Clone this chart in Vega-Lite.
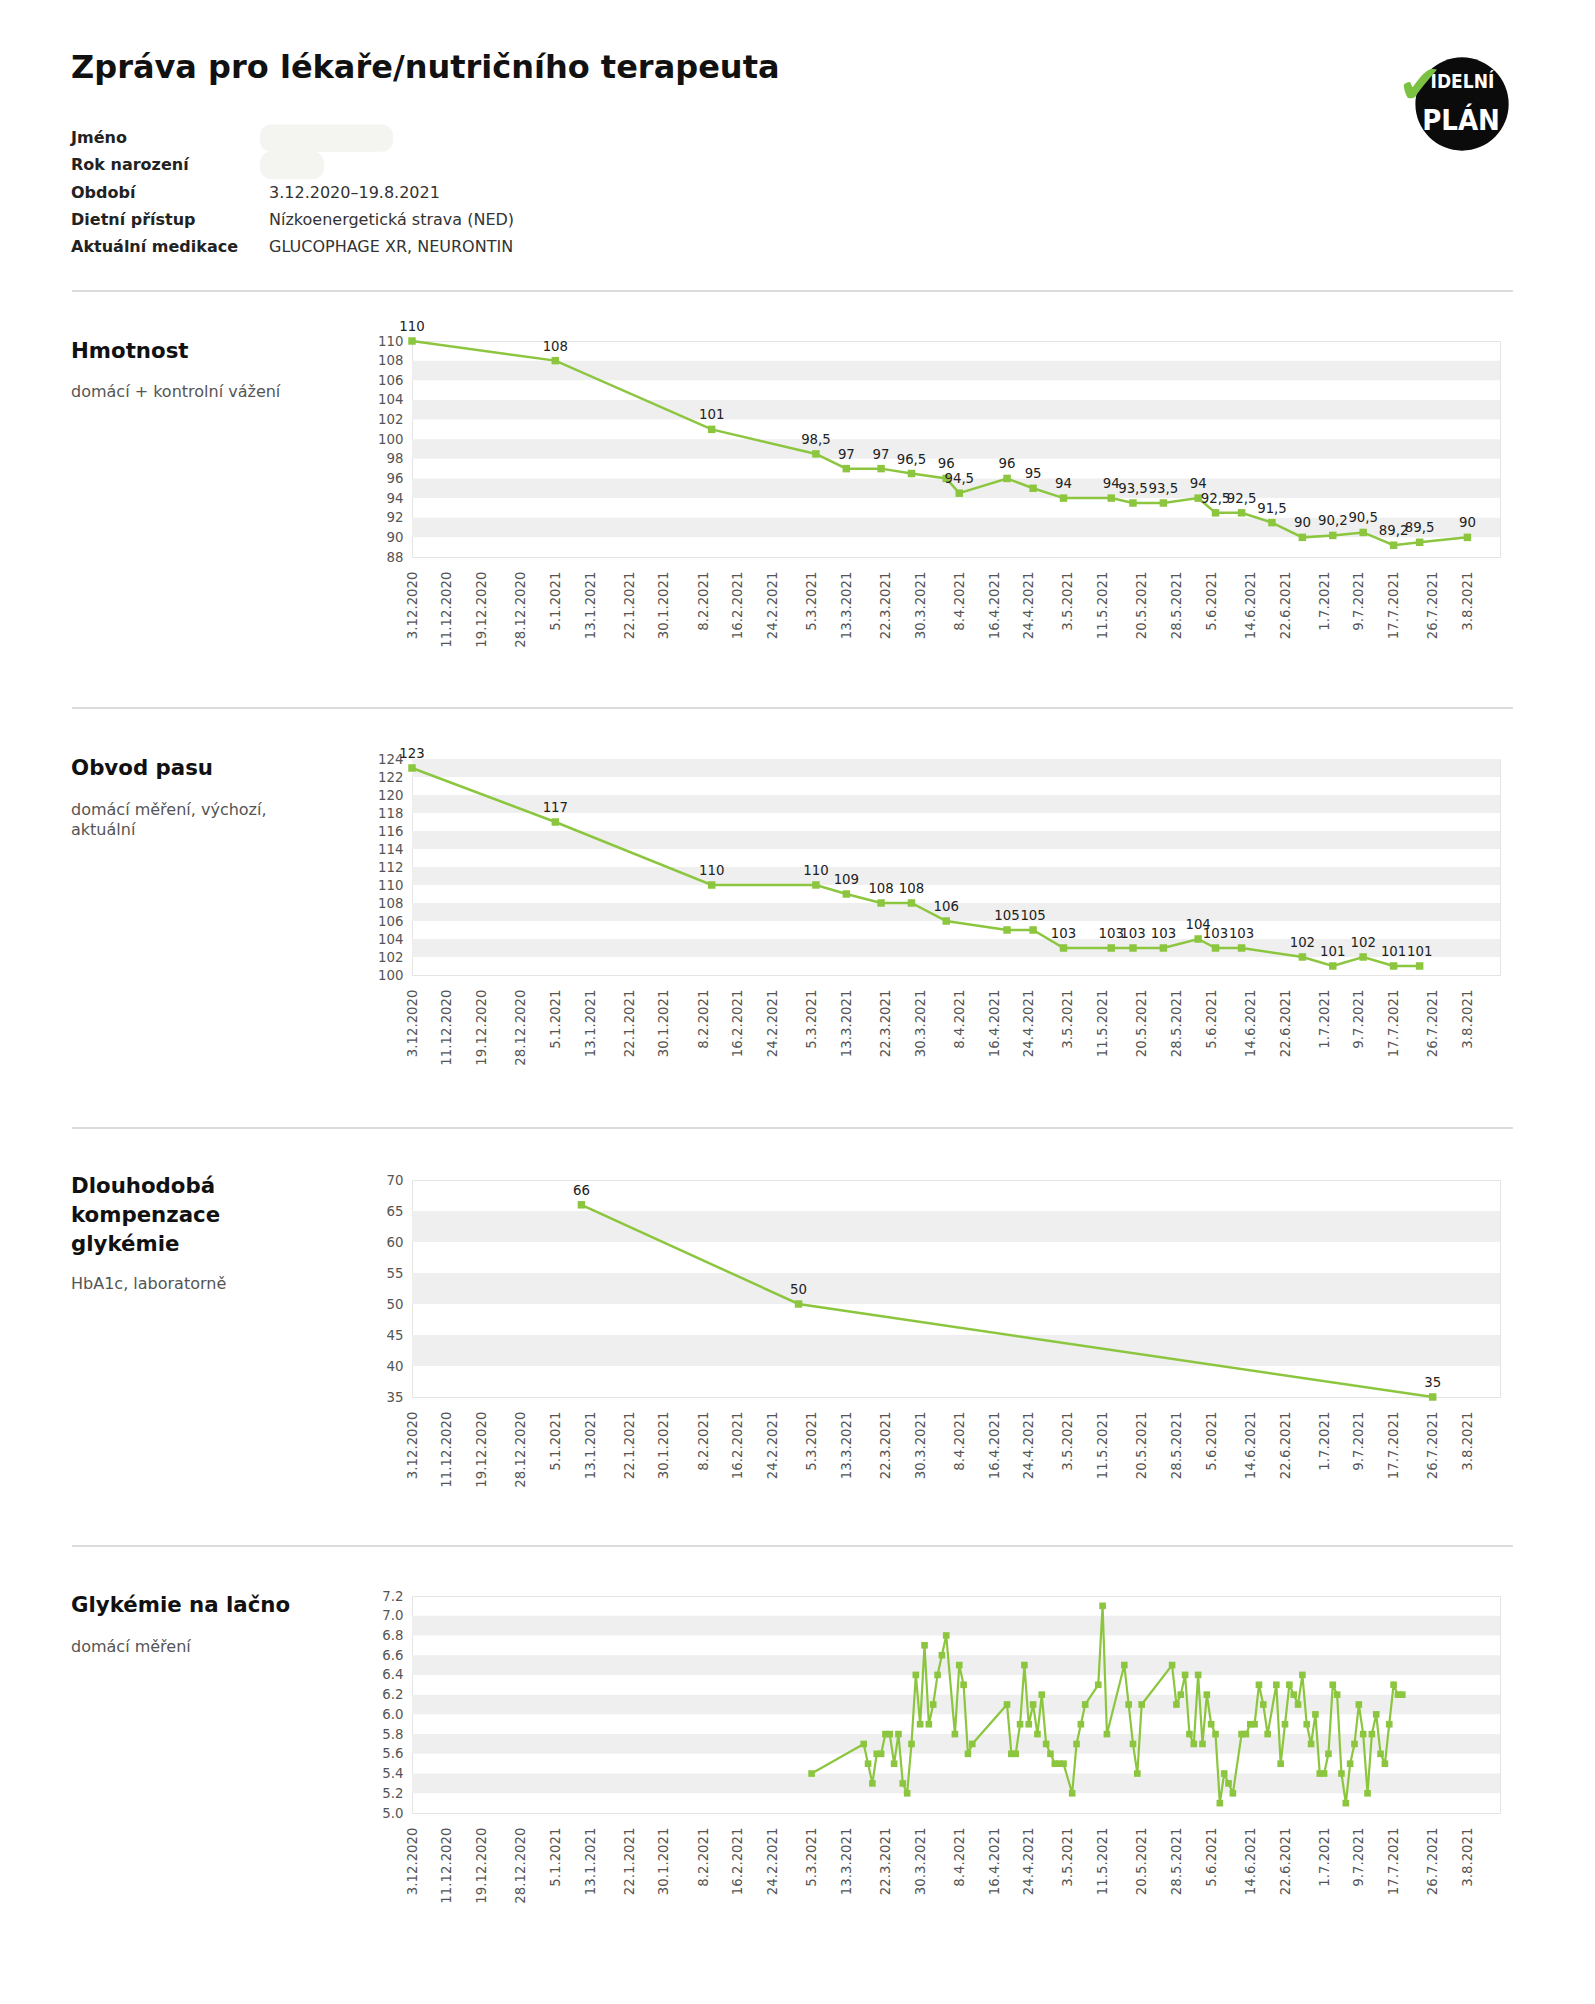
{
  "$schema": "https://vega.github.io/schema/vega-lite/v6.json",
  "background": "white",
  "padding": {"left": 70, "top": 0, "right": 0, "bottom": 0},
  "spacing": 0,
  "bounds": "flush",
  "config": {
    "font": "DejaVu Sans",
    "view": {"stroke": null},
    "axis": {"ticks": false, "domain": false, "grid": false, "labelFont": "DejaVu Sans", "labelFontSize": 13.3, "labelColor": "#555", "title": null, "labelOverlap": false},
    "locale": {"number": {"decimal": ",", "thousands": "\u00a0", "grouping": [3], "currency": ["", "\u00a0Kč"]}}
  },
  "datasets": {
    "info": [
      {"label": "Jméno", "value": ""},
      {"label": "Rok narození", "value": ""},
      {"label": "Období", "value": "3.12.2020–19.8.2021"},
      {"label": "Dietní přístup", "value": "Nízkoenergetická strava (NED)"},
      {"label": "Aktuální medikace", "value": "GLUCOPHAGE XR, NEURONTIN"}
    ],
    "weight": [
      {"date": "2020/12/03", "v": 110}, {"date": "2021/01/05", "v": 108}, {"date": "2021/02/10", "v": 101},
      {"date": "2021/03/06", "v": 98.5}, {"date": "2021/03/13", "v": 97}, {"date": "2021/03/21", "v": 97},
      {"date": "2021/03/28", "v": 96.5}, {"date": "2021/04/05", "v": 96}, {"date": "2021/04/08", "v": 94.5},
      {"date": "2021/04/19", "v": 96}, {"date": "2021/04/25", "v": 95}, {"date": "2021/05/02", "v": 94},
      {"date": "2021/05/13", "v": 94}, {"date": "2021/05/18", "v": 93.5}, {"date": "2021/05/25", "v": 93.5},
      {"date": "2021/06/02", "v": 94}, {"date": "2021/06/06", "v": 92.5}, {"date": "2021/06/12", "v": 92.5},
      {"date": "2021/06/19", "v": 91.5}, {"date": "2021/06/26", "v": 90}, {"date": "2021/07/03", "v": 90.2},
      {"date": "2021/07/10", "v": 90.5}, {"date": "2021/07/17", "v": 89.2}, {"date": "2021/07/23", "v": 89.5},
      {"date": "2021/08/03", "v": 90}
    ],
    "waist": [
      {"date": "2020/12/03", "v": 123}, {"date": "2021/01/05", "v": 117}, {"date": "2021/02/10", "v": 110},
      {"date": "2021/03/06", "v": 110}, {"date": "2021/03/13", "v": 109}, {"date": "2021/03/21", "v": 108},
      {"date": "2021/03/28", "v": 108}, {"date": "2021/04/05", "v": 106}, {"date": "2021/04/19", "v": 105},
      {"date": "2021/04/25", "v": 105}, {"date": "2021/05/02", "v": 103}, {"date": "2021/05/13", "v": 103},
      {"date": "2021/05/18", "v": 103}, {"date": "2021/05/25", "v": 103}, {"date": "2021/06/02", "v": 104},
      {"date": "2021/06/06", "v": 103}, {"date": "2021/06/12", "v": 103}, {"date": "2021/06/26", "v": 102},
      {"date": "2021/07/03", "v": 101}, {"date": "2021/07/10", "v": 102}, {"date": "2021/07/17", "v": 101},
      {"date": "2021/07/23", "v": 101}
    ],
    "hba1c": [
      {"date": "2021/01/11", "v": 66}, {"date": "2021/03/02", "v": 50}, {"date": "2021/07/26", "v": 35}
    ],
    "glyc": [
      {"date": "2021/03/05", "v": 5.4}, {"date": "2021/03/17", "v": 5.7}, {"date": "2021/03/18", "v": 5.5},
      {"date": "2021/03/19", "v": 5.3}, {"date": "2021/03/20", "v": 5.6}, {"date": "2021/03/21", "v": 5.6},
      {"date": "2021/03/22", "v": 5.8}, {"date": "2021/03/23", "v": 5.8}, {"date": "2021/03/24", "v": 5.5},
      {"date": "2021/03/25", "v": 5.8}, {"date": "2021/03/26", "v": 5.3}, {"date": "2021/03/27", "v": 5.2},
      {"date": "2021/03/28", "v": 5.7}, {"date": "2021/03/29", "v": 6.4}, {"date": "2021/03/30", "v": 5.9},
      {"date": "2021/03/31", "v": 6.7}, {"date": "2021/04/01", "v": 5.9}, {"date": "2021/04/02", "v": 6.1},
      {"date": "2021/04/03", "v": 6.4}, {"date": "2021/04/04", "v": 6.6}, {"date": "2021/04/05", "v": 6.8},
      {"date": "2021/04/07", "v": 5.8}, {"date": "2021/04/08", "v": 6.5}, {"date": "2021/04/09", "v": 6.3},
      {"date": "2021/04/10", "v": 5.6}, {"date": "2021/04/11", "v": 5.7}, {"date": "2021/04/19", "v": 6.1},
      {"date": "2021/04/20", "v": 5.6}, {"date": "2021/04/21", "v": 5.6}, {"date": "2021/04/22", "v": 5.9},
      {"date": "2021/04/23", "v": 6.5}, {"date": "2021/04/24", "v": 5.9}, {"date": "2021/04/25", "v": 6.1},
      {"date": "2021/04/26", "v": 5.8}, {"date": "2021/04/27", "v": 6.2}, {"date": "2021/04/28", "v": 5.7},
      {"date": "2021/04/29", "v": 5.6}, {"date": "2021/04/30", "v": 5.5}, {"date": "2021/05/01", "v": 5.5},
      {"date": "2021/05/02", "v": 5.5}, {"date": "2021/05/04", "v": 5.2}, {"date": "2021/05/05", "v": 5.7},
      {"date": "2021/05/06", "v": 5.9}, {"date": "2021/05/07", "v": 6.1}, {"date": "2021/05/10", "v": 6.3},
      {"date": "2021/05/11", "v": 7.1}, {"date": "2021/05/12", "v": 5.8}, {"date": "2021/05/16", "v": 6.5},
      {"date": "2021/05/17", "v": 6.1}, {"date": "2021/05/18", "v": 5.7}, {"date": "2021/05/19", "v": 5.4},
      {"date": "2021/05/20", "v": 6.1}, {"date": "2021/05/27", "v": 6.5}, {"date": "2021/05/28", "v": 6.1},
      {"date": "2021/05/29", "v": 6.2}, {"date": "2021/05/30", "v": 6.4}, {"date": "2021/05/31", "v": 5.8},
      {"date": "2021/06/01", "v": 5.7}, {"date": "2021/06/02", "v": 6.4}, {"date": "2021/06/03", "v": 5.7},
      {"date": "2021/06/04", "v": 6.2}, {"date": "2021/06/05", "v": 5.9}, {"date": "2021/06/06", "v": 5.8},
      {"date": "2021/06/07", "v": 5.1}, {"date": "2021/06/08", "v": 5.4}, {"date": "2021/06/09", "v": 5.3},
      {"date": "2021/06/10", "v": 5.2}, {"date": "2021/06/12", "v": 5.8}, {"date": "2021/06/13", "v": 5.8},
      {"date": "2021/06/14", "v": 5.9}, {"date": "2021/06/15", "v": 5.9}, {"date": "2021/06/16", "v": 6.3},
      {"date": "2021/06/17", "v": 6.1}, {"date": "2021/06/18", "v": 5.8}, {"date": "2021/06/20", "v": 6.3},
      {"date": "2021/06/21", "v": 5.5}, {"date": "2021/06/22", "v": 5.9}, {"date": "2021/06/23", "v": 6.3},
      {"date": "2021/06/24", "v": 6.2}, {"date": "2021/06/25", "v": 6.1}, {"date": "2021/06/26", "v": 6.4},
      {"date": "2021/06/27", "v": 5.9}, {"date": "2021/06/28", "v": 5.7}, {"date": "2021/06/29", "v": 6.0},
      {"date": "2021/06/30", "v": 5.4}, {"date": "2021/07/01", "v": 5.4}, {"date": "2021/07/02", "v": 5.6},
      {"date": "2021/07/03", "v": 6.3}, {"date": "2021/07/04", "v": 6.2}, {"date": "2021/07/05", "v": 5.4},
      {"date": "2021/07/06", "v": 5.1}, {"date": "2021/07/07", "v": 5.5}, {"date": "2021/07/08", "v": 5.7},
      {"date": "2021/07/09", "v": 6.1}, {"date": "2021/07/10", "v": 5.8}, {"date": "2021/07/11", "v": 5.2},
      {"date": "2021/07/12", "v": 5.8}, {"date": "2021/07/13", "v": 6.0}, {"date": "2021/07/14", "v": 5.6},
      {"date": "2021/07/15", "v": 5.5}, {"date": "2021/07/16", "v": 5.9}, {"date": "2021/07/17", "v": 6.3},
      {"date": "2021/07/18", "v": 6.2}, {"date": "2021/07/19", "v": 6.2}
    ],
    "bands_kg": [{"from": 90, "to": 92}, {"from": 94, "to": 96}, {"from": 98, "to": 100}, {"from": 102, "to": 104}, {"from": 106, "to": 108}],
    "bands_cm": [{"from": 102, "to": 104}, {"from": 106, "to": 108}, {"from": 110, "to": 112}, {"from": 114, "to": 116}, {"from": 118, "to": 120}, {"from": 122, "to": 124}],
    "bands_hb": [{"from": 40, "to": 45}, {"from": 50, "to": 55}, {"from": 60, "to": 65}],
    "bands_gl": [{"from": 5.2, "to": 5.4}, {"from": 5.6, "to": 5.8}, {"from": 6.0, "to": 6.2}, {"from": 6.4, "to": 6.6}, {"from": 6.8, "to": 7.0}]
  },
  "vconcat": [
    {
      "width": 1088, "height": 341,
      "view": {"stroke": null},
      "resolve": {"scale": {"y": "independent"}},
      "layer": [
        {
          "data": {"name": "info"},
          "layer": [
            {"transform": [{"filter": "datum.label === 'Jméno'"}],
             "mark": {"type": "rect", "color": "#f4f4f1", "cornerRadius": 11},
             "encoding": {"x": {"datum": -0.1397, "type": "quantitative", "scale": {"domain": [0, 1]}, "axis": null}, "x2": {"datum": -0.0175},
                          "y": {"field": "label", "type": "nominal", "sort": null, "axis": null, "scale": {"range": [124.4, 260.6], "paddingInner": 0, "paddingOuter": 0}}}},
            {"transform": [{"filter": "datum.label === 'Rok narození'"}],
             "mark": {"type": "rect", "color": "#f4f4f1", "cornerRadius": 11},
             "encoding": {"x": {"datum": -0.1397, "type": "quantitative"}, "x2": {"datum": -0.0809},
                          "y": {"field": "label", "type": "nominal", "sort": null}}},
            {"mark": {"type": "text", "align": "left", "baseline": "middle", "fontSize": 16, "fontWeight": "bold", "color": "#222"},
             "encoding": {"x": {"datum": -0.3134, "type": "quantitative"}, "y": {"field": "label", "type": "nominal", "sort": null}, "text": {"field": "label"}}},
            {"mark": {"type": "text", "align": "left", "baseline": "middle", "fontSize": 16, "color": "#333"},
             "encoding": {"x": {"datum": -0.1314, "type": "quantitative"}, "y": {"field": "label", "type": "nominal", "sort": null}, "text": {"field": "value"}}}
          ]
        },
        {
          "layer": [
            {"data": {"values": [{"t": "Zpráva pro lékaře/nutričního terapeuta"}]},
             "mark": {"type": "text", "align": "left", "baseline": "alphabetic", "fontSize": 32, "fontWeight": "bold", "color": "#111"},
             "encoding": {"x": {"datum": -0.3134, "type": "quantitative"}, "y": {"datum": 0.7713, "type": "quantitative", "scale": {"domain": [0, 1]}, "axis": null}, "text": {"field": "t"}}},
            {"data": {"values": [{"t": "separator"}]},
             "mark": {"type": "rule", "color": "#dcdcdc", "strokeWidth": 2},
             "encoding": {"x": {"datum": -0.3125, "type": "quantitative"}, "x2": {"datum": 1.0119}, "y": {"datum": 0.1466, "type": "quantitative"}}},
            {"data": {"values": [{"t": "logo"}]},
             "mark": {"type": "point", "shape": "circle", "filled": true, "color": "#0b0b0b", "opacity": 1, "size": 8700},
             "encoding": {"x": {"datum": 0.9651, "type": "quantitative"}, "y": {"datum": 0.695, "type": "quantitative"}}},
            {"data": {"values": [{"t": "IDELNÍ"}]},
             "mark": {"type": "text", "align": "center", "baseline": "middle", "fontSize": 19, "fontWeight": "bold", "font": "DejaVu Sans Condensed, Liberation Sans", "color": "white"},
             "encoding": {"x": {"datum": 0.9655, "type": "quantitative"}, "y": {"datum": 0.7595, "type": "quantitative"}, "text": {"field": "t"}}},
            {"data": {"values": [{"t": "PLÁN"}]},
             "mark": {"type": "text", "align": "center", "baseline": "middle", "fontSize": 29, "fontWeight": "bold", "font": "DejaVu Sans Condensed, Liberation Sans", "color": "white"},
             "encoding": {"x": {"datum": 0.9642, "type": "quantitative"}, "y": {"datum": 0.645, "type": "quantitative"}, "text": {"field": "t"}}},
            {"data": {"values": [{"t": "✔"}]},
             "mark": {"type": "text", "align": "center", "baseline": "middle", "fontSize": 54, "color": "#7cc242"},
             "encoding": {"x": {"datum": 0.9265, "type": "quantitative"}, "y": {"datum": 0.745, "type": "quantitative"}, "text": {"field": "t"}}}
          ]
        }
      ]
    },
    {
      "width": 1088, "height": 216,
      "view": {"stroke": "#e4e4e4"},
      "resolve": {"scale": {"x": "independent", "y": "independent"}},
      "layer": [
        {
          "layer": [
            {"data": {"name": "bands_kg"}, "mark": {"type": "rect", "color": "#efefef"},
             "encoding": {"y": {"field": "from", "type": "quantitative", "scale": {"domain": [88, 110], "nice": false, "zero": false},
                                "axis": {"values": [88, 90, 92, 94, 96, 98, 100, 102, 104, 106, 108, 110], "labelPadding": 9, "labelOverlap": false}}, "y2": {"field": "to"}}},
            {"data": {"name": "weight"},
             "encoding": {
               "x": {"field": "date", "type": "temporal",
                     "scale": {"domain": [{"year": 2020, "month": 12, "date": 3}, {"year": 2021, "month": 8, "date": 10, "hours": 12}]},
                     "axis": {"format": "%-d.%-m.%Y", "labelAngle": -90, "labelPadding": 14, "labelFlush": false, "labelOverlap": false,
                              "values": [{"year": 2020, "month": 12, "date": 3}, {"year": 2020, "month": 12, "date": 11}, {"year": 2020, "month": 12, "date": 19}, {"year": 2020, "month": 12, "date": 28},
                                         {"year": 2021, "month": 1, "date": 5}, {"year": 2021, "month": 1, "date": 13}, {"year": 2021, "month": 1, "date": 22}, {"year": 2021, "month": 1, "date": 30},
                                         {"year": 2021, "month": 2, "date": 8}, {"year": 2021, "month": 2, "date": 16}, {"year": 2021, "month": 2, "date": 24}, {"year": 2021, "month": 3, "date": 5},
                                         {"year": 2021, "month": 3, "date": 13}, {"year": 2021, "month": 3, "date": 22}, {"year": 2021, "month": 3, "date": 30}, {"year": 2021, "month": 4, "date": 8},
                                         {"year": 2021, "month": 4, "date": 16}, {"year": 2021, "month": 4, "date": 24}, {"year": 2021, "month": 5, "date": 3}, {"year": 2021, "month": 5, "date": 11},
                                         {"year": 2021, "month": 5, "date": 20}, {"year": 2021, "month": 5, "date": 28}, {"year": 2021, "month": 6, "date": 5}, {"year": 2021, "month": 6, "date": 14},
                                         {"year": 2021, "month": 6, "date": 22}, {"year": 2021, "month": 7, "date": 1}, {"year": 2021, "month": 7, "date": 9}, {"year": 2021, "month": 7, "date": 17},
                                         {"year": 2021, "month": 7, "date": 26}, {"year": 2021, "month": 8, "date": 3}]}},
               "y": {"field": "v", "type": "quantitative", "axis": {"values": [88, 90, 92, 94, 96, 98, 100, 102, 104, 106, 108, 110], "labelPadding": 9, "labelOverlap": false}}},
             "layer": [
               {"mark": {"type": "line", "color": "#8cc63f", "strokeWidth": 2.5, "point": {"shape": "square", "size": 56, "filled": true, "color": "#8cc63f", "opacity": 1}}},
               {"mark": {"type": "text", "baseline": "alphabetic", "dy": -10, "fontSize": 13.3, "color": "#222"},
                "encoding": {"text": {"field": "v", "type": "quantitative", "format": ".1~f"}}}
             ]}
          ]
        },
        {
          "data": {"values": [{"name": ["Hmotnost"], "note": ["domácí + kontrolní vážení"]}]},
          "layer": [
            {"mark": {"type": "text", "align": "left", "baseline": "alphabetic", "fontSize": 21.3, "fontWeight": "bold", "color": "#111", "lineHeight": 28.7, "dy": 16.5},
             "encoding": {"x": {"datum": -0.3134, "type": "quantitative", "scale": {"domain": [0, 1]}, "axis": null}, "y": {"datum": 1, "type": "quantitative", "scale": {"domain": [0, 1]}, "axis": null}, "text": {"field": "name"}}},
            {"mark": {"type": "text", "align": "left", "baseline": "alphabetic", "fontSize": 16, "color": "#555", "lineHeight": 20.4, "dy": 55.7},
             "encoding": {"x": {"datum": -0.3134, "type": "quantitative"}, "y": {"datum": 1, "type": "quantitative"}, "text": {"field": "note"}}}
          ]
        }
      ]
    },
    {
      "width": 1088, "height": 202, "view": {"stroke": null},
      "data": {"values": [{"t": "separator"}]},
      "mark": {"type": "rule", "color": "#dcdcdc", "strokeWidth": 2},
      "encoding": {"x": {"datum": -0.3125, "type": "quantitative", "scale": {"domain": [0, 1]}, "axis": null}, "x2": {"datum": 1.0119}, "y": {"datum": 0.2525, "type": "quantitative", "scale": {"domain": [0, 1]}, "axis": null}}
    },
    {
      "width": 1088, "height": 216,
      "view": {"stroke": "#e4e4e4"},
      "resolve": {"scale": {"x": "independent", "y": "independent"}},
      "layer": [
        {
          "layer": [
            {"data": {"name": "bands_cm"}, "mark": {"type": "rect", "color": "#efefef"},
             "encoding": {"y": {"field": "from", "type": "quantitative", "scale": {"domain": [100, 124], "nice": false, "zero": false},
                                "axis": {"values": [100, 102, 104, 106, 108, 110, 112, 114, 116, 118, 120, 122, 124], "labelPadding": 9, "labelOverlap": false}}, "y2": {"field": "to"}}},
            {"data": {"name": "waist"},
             "encoding": {
               "x": {"field": "date", "type": "temporal",
                     "scale": {"domain": [{"year": 2020, "month": 12, "date": 3}, {"year": 2021, "month": 8, "date": 10, "hours": 12}]},
                     "axis": {"format": "%-d.%-m.%Y", "labelAngle": -90, "labelPadding": 14, "labelFlush": false, "labelOverlap": false,
                              "values": [{"year": 2020, "month": 12, "date": 3}, {"year": 2020, "month": 12, "date": 11}, {"year": 2020, "month": 12, "date": 19}, {"year": 2020, "month": 12, "date": 28},
                                         {"year": 2021, "month": 1, "date": 5}, {"year": 2021, "month": 1, "date": 13}, {"year": 2021, "month": 1, "date": 22}, {"year": 2021, "month": 1, "date": 30},
                                         {"year": 2021, "month": 2, "date": 8}, {"year": 2021, "month": 2, "date": 16}, {"year": 2021, "month": 2, "date": 24}, {"year": 2021, "month": 3, "date": 5},
                                         {"year": 2021, "month": 3, "date": 13}, {"year": 2021, "month": 3, "date": 22}, {"year": 2021, "month": 3, "date": 30}, {"year": 2021, "month": 4, "date": 8},
                                         {"year": 2021, "month": 4, "date": 16}, {"year": 2021, "month": 4, "date": 24}, {"year": 2021, "month": 5, "date": 3}, {"year": 2021, "month": 5, "date": 11},
                                         {"year": 2021, "month": 5, "date": 20}, {"year": 2021, "month": 5, "date": 28}, {"year": 2021, "month": 6, "date": 5}, {"year": 2021, "month": 6, "date": 14},
                                         {"year": 2021, "month": 6, "date": 22}, {"year": 2021, "month": 7, "date": 1}, {"year": 2021, "month": 7, "date": 9}, {"year": 2021, "month": 7, "date": 17},
                                         {"year": 2021, "month": 7, "date": 26}, {"year": 2021, "month": 8, "date": 3}]}},
               "y": {"field": "v", "type": "quantitative", "axis": {"values": [100, 102, 104, 106, 108, 110, 112, 114, 116, 118, 120, 122, 124], "labelPadding": 9, "labelOverlap": false}}},
             "layer": [
               {"mark": {"type": "line", "color": "#8cc63f", "strokeWidth": 2.5, "point": {"shape": "square", "size": 56, "filled": true, "color": "#8cc63f", "opacity": 1}}},
               {"mark": {"type": "text", "baseline": "alphabetic", "dy": -10, "fontSize": 13.3, "color": "#222"},
                "encoding": {"text": {"field": "v", "type": "quantitative", "format": ".1~f"}}}
             ]}
          ]
        },
        {
          "data": {"values": [{"name": ["Obvod pasu"], "note": ["domácí měření, výchozí,", "aktuální"]}]},
          "layer": [
            {"mark": {"type": "text", "align": "left", "baseline": "alphabetic", "fontSize": 21.3, "fontWeight": "bold", "color": "#111", "lineHeight": 28.7, "dy": 16.3},
             "encoding": {"x": {"datum": -0.3134, "type": "quantitative", "scale": {"domain": [0, 1]}, "axis": null}, "y": {"datum": 1, "type": "quantitative", "scale": {"domain": [0, 1]}, "axis": null}, "text": {"field": "name"}}},
            {"mark": {"type": "text", "align": "left", "baseline": "alphabetic", "fontSize": 16, "color": "#555", "lineHeight": 20.4, "dy": 55.7},
             "encoding": {"x": {"datum": -0.3134, "type": "quantitative"}, "y": {"datum": 1, "type": "quantitative"}, "text": {"field": "note"}}}
          ]
        }
      ]
    },
    {
      "width": 1088, "height": 205, "view": {"stroke": null},
      "data": {"values": [{"t": "separator"}]},
      "mark": {"type": "rule", "color": "#dcdcdc", "strokeWidth": 2},
      "encoding": {"x": {"datum": -0.3125, "type": "quantitative", "scale": {"domain": [0, 1]}, "axis": null}, "x2": {"datum": 1.0119}, "y": {"datum": 0.2537, "type": "quantitative", "scale": {"domain": [0, 1]}, "axis": null}}
    },
    {
      "width": 1088, "height": 217,
      "view": {"stroke": "#e4e4e4"},
      "resolve": {"scale": {"x": "independent", "y": "independent"}},
      "layer": [
        {
          "layer": [
            {"data": {"name": "bands_hb"}, "mark": {"type": "rect", "color": "#efefef"},
             "encoding": {"y": {"field": "from", "type": "quantitative", "scale": {"domain": [35, 70], "nice": false, "zero": false},
                                "axis": {"values": [35, 40, 45, 50, 55, 60, 65, 70], "labelPadding": 9, "labelOverlap": false}}, "y2": {"field": "to"}}},
            {"data": {"name": "hba1c"},
             "encoding": {
               "x": {"field": "date", "type": "temporal",
                     "scale": {"domain": [{"year": 2020, "month": 12, "date": 3}, {"year": 2021, "month": 8, "date": 10, "hours": 12}]},
                     "axis": {"format": "%-d.%-m.%Y", "labelAngle": -90, "labelPadding": 14, "labelFlush": false, "labelOverlap": false,
                              "values": [{"year": 2020, "month": 12, "date": 3}, {"year": 2020, "month": 12, "date": 11}, {"year": 2020, "month": 12, "date": 19}, {"year": 2020, "month": 12, "date": 28},
                                         {"year": 2021, "month": 1, "date": 5}, {"year": 2021, "month": 1, "date": 13}, {"year": 2021, "month": 1, "date": 22}, {"year": 2021, "month": 1, "date": 30},
                                         {"year": 2021, "month": 2, "date": 8}, {"year": 2021, "month": 2, "date": 16}, {"year": 2021, "month": 2, "date": 24}, {"year": 2021, "month": 3, "date": 5},
                                         {"year": 2021, "month": 3, "date": 13}, {"year": 2021, "month": 3, "date": 22}, {"year": 2021, "month": 3, "date": 30}, {"year": 2021, "month": 4, "date": 8},
                                         {"year": 2021, "month": 4, "date": 16}, {"year": 2021, "month": 4, "date": 24}, {"year": 2021, "month": 5, "date": 3}, {"year": 2021, "month": 5, "date": 11},
                                         {"year": 2021, "month": 5, "date": 20}, {"year": 2021, "month": 5, "date": 28}, {"year": 2021, "month": 6, "date": 5}, {"year": 2021, "month": 6, "date": 14},
                                         {"year": 2021, "month": 6, "date": 22}, {"year": 2021, "month": 7, "date": 1}, {"year": 2021, "month": 7, "date": 9}, {"year": 2021, "month": 7, "date": 17},
                                         {"year": 2021, "month": 7, "date": 26}, {"year": 2021, "month": 8, "date": 3}]}},
               "y": {"field": "v", "type": "quantitative", "axis": {"values": [35, 40, 45, 50, 55, 60, 65, 70], "labelPadding": 9, "labelOverlap": false}}},
             "layer": [
               {"mark": {"type": "line", "color": "#8cc63f", "strokeWidth": 2.5, "point": {"shape": "square", "size": 56, "filled": true, "color": "#8cc63f", "opacity": 1}}},
               {"mark": {"type": "text", "baseline": "alphabetic", "dy": -10, "fontSize": 13.3, "color": "#222"},
                "encoding": {"text": {"field": "v", "type": "quantitative", "format": ".1~f"}}}
             ]}
          ]
        },
        {
          "data": {"values": [{"name": ["Dlouhodobá", "kompenzace", "glykémie"], "note": ["HbA1c, laboratorně"]}]},
          "layer": [
            {"mark": {"type": "text", "align": "left", "baseline": "alphabetic", "fontSize": 21.3, "fontWeight": "bold", "color": "#111", "lineHeight": 28.7, "dy": 13.2},
             "encoding": {"x": {"datum": -0.3134, "type": "quantitative", "scale": {"domain": [0, 1]}, "axis": null}, "y": {"datum": 1, "type": "quantitative", "scale": {"domain": [0, 1]}, "axis": null}, "text": {"field": "name"}}},
            {"mark": {"type": "text", "align": "left", "baseline": "alphabetic", "fontSize": 16, "color": "#555", "lineHeight": 20.4, "dy": 108.8},
             "encoding": {"x": {"datum": -0.3134, "type": "quantitative"}, "y": {"datum": 1, "type": "quantitative"}, "text": {"field": "note"}}}
          ]
        }
      ]
    },
    {
      "width": 1088, "height": 199, "view": {"stroke": null},
      "data": {"values": [{"t": "separator"}]},
      "mark": {"type": "rule", "color": "#dcdcdc", "strokeWidth": 2},
      "encoding": {"x": {"datum": -0.3125, "type": "quantitative", "scale": {"domain": [0, 1]}, "axis": null}, "x2": {"datum": 1.0119}, "y": {"datum": 0.2513, "type": "quantitative", "scale": {"domain": [0, 1]}, "axis": null}}
    },
    {
      "width": 1088, "height": 217,
      "view": {"stroke": "#e4e4e4"},
      "resolve": {"scale": {"x": "independent", "y": "independent"}},
      "layer": [
        {
          "layer": [
            {"data": {"name": "bands_gl"}, "mark": {"type": "rect", "color": "#efefef"},
             "encoding": {"y": {"field": "from", "type": "quantitative", "scale": {"domain": [5.0, 7.2], "nice": false, "zero": false},
                                "axis": {"values": [5.0, 5.2, 5.4, 5.6, 5.8, 6.0, 6.2, 6.4, 6.6, 6.8, 7.0, 7.2], "format": ".1f", "labelExpr": "replace(datum.label, ',', '.')", "labelPadding": 9, "labelOverlap": false}}, "y2": {"field": "to"}}},
            {"data": {"name": "glyc"},
             "mark": {"type": "line", "color": "#8cc63f", "strokeWidth": 2.2, "point": {"shape": "square", "size": 44, "filled": true, "color": "#8cc63f", "opacity": 1}},
             "encoding": {
               "x": {"field": "date", "type": "temporal",
                     "scale": {"domain": [{"year": 2020, "month": 12, "date": 3}, {"year": 2021, "month": 8, "date": 10, "hours": 12}]},
                     "axis": {"format": "%-d.%-m.%Y", "labelAngle": -90, "labelPadding": 14, "labelFlush": false, "labelOverlap": false,
                              "values": [{"year": 2020, "month": 12, "date": 3}, {"year": 2020, "month": 12, "date": 11}, {"year": 2020, "month": 12, "date": 19}, {"year": 2020, "month": 12, "date": 28},
                                         {"year": 2021, "month": 1, "date": 5}, {"year": 2021, "month": 1, "date": 13}, {"year": 2021, "month": 1, "date": 22}, {"year": 2021, "month": 1, "date": 30},
                                         {"year": 2021, "month": 2, "date": 8}, {"year": 2021, "month": 2, "date": 16}, {"year": 2021, "month": 2, "date": 24}, {"year": 2021, "month": 3, "date": 5},
                                         {"year": 2021, "month": 3, "date": 13}, {"year": 2021, "month": 3, "date": 22}, {"year": 2021, "month": 3, "date": 30}, {"year": 2021, "month": 4, "date": 8},
                                         {"year": 2021, "month": 4, "date": 16}, {"year": 2021, "month": 4, "date": 24}, {"year": 2021, "month": 5, "date": 3}, {"year": 2021, "month": 5, "date": 11},
                                         {"year": 2021, "month": 5, "date": 20}, {"year": 2021, "month": 5, "date": 28}, {"year": 2021, "month": 6, "date": 5}, {"year": 2021, "month": 6, "date": 14},
                                         {"year": 2021, "month": 6, "date": 22}, {"year": 2021, "month": 7, "date": 1}, {"year": 2021, "month": 7, "date": 9}, {"year": 2021, "month": 7, "date": 17},
                                         {"year": 2021, "month": 7, "date": 26}, {"year": 2021, "month": 8, "date": 3}]}},
               "y": {"field": "v", "type": "quantitative", "axis": {"values": [5.0, 5.2, 5.4, 5.6, 5.8, 6.0, 6.2, 6.4, 6.6, 6.8, 7.0, 7.2], "format": ".1f", "labelExpr": "replace(datum.label, ',', '.')", "labelPadding": 9, "labelOverlap": false}}}}
          ]
        },
        {
          "data": {"values": [{"name": ["Glykémie na lačno"], "note": ["domácí měření"]}]},
          "layer": [
            {"mark": {"type": "text", "align": "left", "baseline": "alphabetic", "fontSize": 21.3, "fontWeight": "bold", "color": "#111", "lineHeight": 28.7, "dy": 16.4},
             "encoding": {"x": {"datum": -0.3134, "type": "quantitative", "scale": {"domain": [0, 1]}, "axis": null}, "y": {"datum": 1, "type": "quantitative", "scale": {"domain": [0, 1]}, "axis": null}, "text": {"field": "name"}}},
            {"mark": {"type": "text", "align": "left", "baseline": "alphabetic", "fontSize": 16, "color": "#555", "lineHeight": 20.4, "dy": 55.7},
             "encoding": {"x": {"datum": -0.3134, "type": "quantitative"}, "y": {"datum": 1, "type": "quantitative"}, "text": {"field": "note"}}}
          ]
        }
      ]
    }
  ]
}
